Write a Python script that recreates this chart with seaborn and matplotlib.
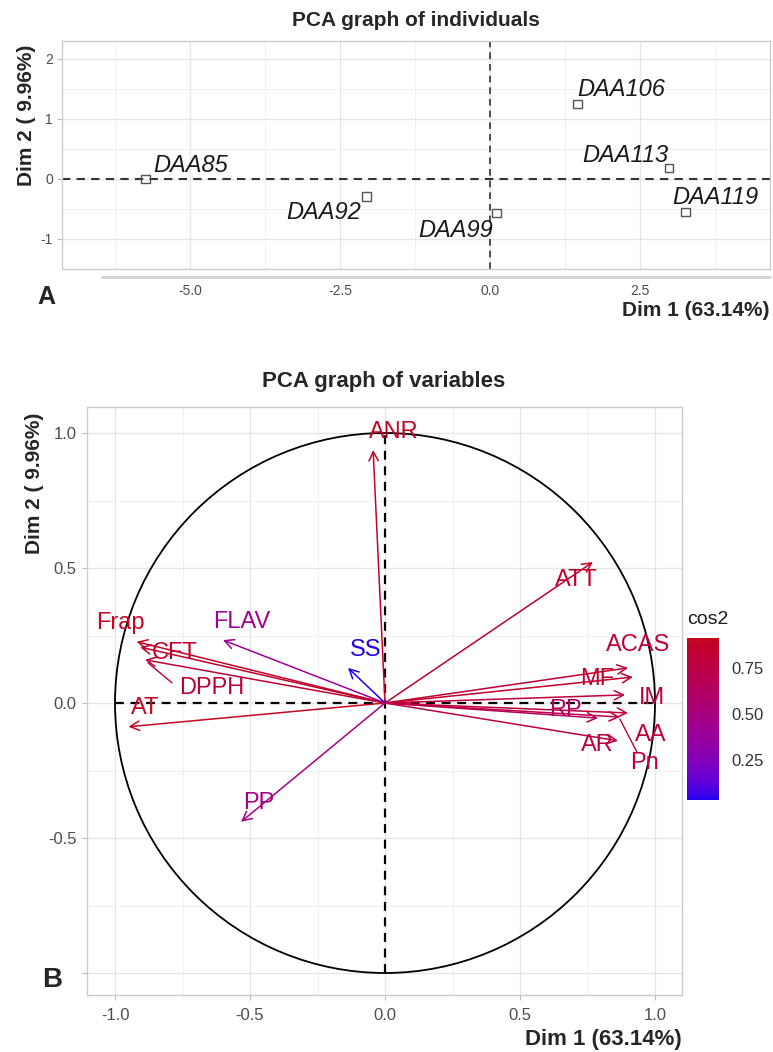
import numpy as np
import matplotlib
matplotlib.use("Agg")
import matplotlib.pyplot as plt
import matplotlib.colors as mcolors
from matplotlib.lines import Line2D
from matplotlib.patches import Circle
import seaborn as sns

# ---------------- data ----------------
ind_names = ["DAA85", "DAA92", "DAA99", "DAA106", "DAA113", "DAA119"]
ind_dim1 = [-5.74, -2.06, 0.11, 1.46, 2.98, 3.26]
ind_dim2 = [0.00, -0.29, -0.57, 1.25, 0.18, -0.55]

var_names = ["ANR", "ATT", "ACAS", "MF", "IM", "RP", "AA", "AR", "Pn",
             "Frap", "CFT", "DPPH", "AT", "FLAV", "SS", "PP"]
var_dim1 = [-0.044, 0.770, 0.900, 0.918, 0.889, 0.789, 0.900, 0.863, 0.870,
            -0.920, -0.907, -0.889, -0.950, -0.600, -0.137, -0.533]
var_dim2 = [0.937, 0.522, 0.130, 0.096, 0.030, -0.056, -0.037, -0.140, -0.052,
            0.227, 0.207, 0.160, -0.088, 0.233, 0.130, -0.440]
# quality of representation on the two plotted dimensions
var_cos2 = [x * x + y * y for x, y in zip(var_dim1, var_dim2)]

cbar_ticks = [0.25, 0.50, 0.75]
xlab = "Dim 1 (63.14%)"
ylab = "Dim 2 ( 9.96%)"

# ---------------- layout (pixels) ----------------
W, H = 773, 1052
DPI = 100

# label offsets in pixels (dx right, dy up)
ind_off = {"DAA85": (8, 14, "left"), "DAA92": (-5, -16, "right"),
           "DAA99": (-4, -17, "right"), "DAA106": (0, 14, "left"),
           "DAA113": (0, 13, "right"), "DAA119": (-13, 14, "left")}
var_off = {"ANR": (21, 18), "ATT": (-17, -18), "ACAS": (10, 23), "MF": (-36, -2),
           "IM": (27, -3), "RP": (-33, 8), "AA": (23, -22), "AR": (-21, -4),
           "Pn": (25, -46), "Frap": (-16, 19), "CFT": (35, -6), "DPPH": (67, -28),
           "AT": (17, 19), "FLAV": (19, 18), "SS": (18, 18), "PP": (18, 19)}
var_seg = {"DPPH": ((3, -3), (27, -23)), "Pn": ((0, -2), (17, -35))}


def fx(px):
    return px / W


def fy(py):
    return 1 - py / H


def rect(l, t, r, b):
    return [fx(l), fy(b), (r - l) / W, (b - t) / H]


# ---------------- colour gradient (Lab interpolation like ggplot) ----------------
_M = np.array([[0.4124, 0.3576, 0.1805], [0.2126, 0.7152, 0.0722], [0.0193, 0.1192, 0.9505]])
_WP = np.array([0.95047, 1.0, 1.08883])


def to_lab(c):
    rgb = np.array(mcolors.to_rgb(c))
    lin = np.where(rgb <= 0.04045, rgb / 12.92, ((rgb + 0.055) / 1.055) ** 2.4)
    xyz = _M @ lin / _WP
    f = np.where(xyz > 0.008856, np.cbrt(xyz), 7.787 * xyz + 16 / 116)
    return np.array([116 * f[1] - 16, 500 * (f[0] - f[1]), 200 * (f[1] - f[2])])


def from_lab(lab):
    L, a, b = lab
    fy_ = (L + 16) / 116
    fx_ = fy_ + a / 500
    fz_ = fy_ - b / 200
    f = np.array([fx_, fy_, fz_])
    xyz = np.where(f ** 3 > 0.008856, f ** 3, (f - 16 / 116) / 7.787) * _WP
    lin = np.linalg.solve(_M, xyz)
    lin = np.clip(lin, 0, 1)
    rgb = np.where(lin <= 0.0031308, 12.92 * lin, 1.055 * lin ** (1 / 2.4) - 0.055)
    return np.clip(rgb, 0, 1)


lo, hi = to_lab("#2000F0"), to_lab("#C4081F")
cmap = mcolors.ListedColormap([from_lab(lo + t * (hi - lo)) for t in np.linspace(0, 1, 256)])
norm = mcolors.Normalize(vmin=min(var_cos2), vmax=max(var_cos2))

# ---------------- style ----------------
sns.set_theme(style="white")
plt.rcParams["font.family"] = ["Liberation Sans", "DejaVu Sans"]
TICKC = "#4D4D4D"
GRID_MAJ = "#E6E6E6"
GRID_MIN = "#F0F0F0"
BORDER = "#CCCCCC"

fig = plt.figure(figsize=(W / DPI, H / DPI), dpi=DPI)
fig.patch.set_facecolor("white")

# ================= Panel A =================
axA = fig.add_axes(rect(62, 41, 770, 269))
axA.set_xlim((62 - 490) / 60, (770 - 490) / 60)
axA.set_ylim((179 - 269) / 60, (179 - 41) / 60)
axA.set_xticks([-5.0, -2.5, 0.0, 2.5])
axA.set_xticklabels(["-5.0", "-2.5", "0.0", "2.5"])
axA.set_yticks([-1, 0, 1, 2])
axA.set_yticklabels(["-1", "0", "1", "2"])
axA.set_xticks([-6.25, -3.75, -1.25, 1.25, 3.75], minor=True)
axA.set_yticks([-1.5, -0.5, 0.5, 1.5], minor=True)
axA.grid(True, which="major", color=GRID_MAJ, lw=1.0)
axA.grid(True, which="minor", color=GRID_MIN, lw=0.7)
axA.set_axisbelow(True)
axA.tick_params(axis="x", which="major", length=0, pad=11, labelsize=10, labelcolor=TICKC)
axA.tick_params(axis="y", which="major", length=3.6, width=0.8, color="#BBBBBB", pad=3,
                labelsize=10, labelcolor=TICKC, left=True)
axA.tick_params(which="minor", length=0)
for s in axA.spines.values():
    s.set_color(BORDER)
    s.set_linewidth(1.0)

axA.axhline(0, color="#333333", lw=1.5, ls=(0, (4, 3)), zorder=1)
axA.axvline(0, color="#333333", lw=1.2, ls=(0, (4, 3)), zorder=1)

sns.scatterplot(x=ind_dim1, y=ind_dim2, marker="s", s=36, facecolor="none",
                edgecolor="#555555", linewidth=1.0, ax=axA, zorder=3, legend=False)
for n, x, y in zip(ind_names, ind_dim1, ind_dim2):
    dx, dy, ha = ind_off[n]
    axA.annotate(n, (x, y), xytext=(dx, dy), textcoords="offset pixels",
                 ha=ha, va="center", fontsize=17, style="italic", color="#1A1A1A", zorder=4)
axA.set_xlabel("")
axA.set_ylabel("")

fig.add_artist(Line2D([fx(102), fx(770)], [fy(277), fy(277)], color="#D0D0D0", lw=2))

fig.text(fx(416), fy(20), "PCA graph of individuals", ha="center", va="center",
         fontsize=15, fontweight="bold")
fig.text(fx(27), fy(115), ylab, rotation=90, ha="center", va="center",
         fontsize=15, fontweight="bold")
fig.text(fx(770), fy(310), xlab, ha="right", va="center", fontsize=15, fontweight="bold")
fig.text(fx(46), fy(297), "A", ha="center", va="center", fontsize=18, fontweight="bold")

# ================= Panel B =================
axB = fig.add_axes(rect(87, 407, 682, 995))
axB.set_xlim((87 - 385) / 270, (682 - 385) / 270)
axB.set_ylim((703 - 995) / 270, (703 - 407) / 270)
axB.set_xticks([-1.0, -0.5, 0.0, 0.5, 1.0])
axB.set_xticklabels(["-1.0", "-0.5", "0.0", "0.5", "1.0"])
axB.set_yticks([-1.0, -0.5, 0.0, 0.5, 1.0])
axB.set_yticklabels(["", "-0.5", "0.0", "0.5", "1.0"])
axB.set_xticks([-0.75, -0.25, 0.25, 0.75], minor=True)
axB.set_yticks([-0.75, -0.25, 0.25, 0.75], minor=True)
axB.grid(True, which="major", color=GRID_MAJ, lw=1.0)
axB.grid(True, which="minor", color=GRID_MIN, lw=0.7)
axB.set_axisbelow(True)
axB.tick_params(axis="both", which="major", length=3.6, width=0.8, color="#BBBBBB",
                pad=4, labelsize=12, labelcolor=TICKC, left=True, bottom=True)
axB.tick_params(axis="x", which="major", pad=6)
axB.tick_params(which="minor", length=0)
for s in axB.spines.values():
    s.set_color(BORDER)
    s.set_linewidth(1.0)

axB.plot([-1, 1], [0, 0], color="black", lw=1.6, ls=(0, (4, 3)), zorder=1)
axB.plot([0, 0], [-1, 1], color="black", lw=1.6, ls=(0, (4, 3)), zorder=1)
axB.add_patch(Circle((0, 0), 1.0, fill=False, color="black", lw=1.3, zorder=2))

for n, x, y, c2 in zip(var_names, var_dim1, var_dim2, var_cos2):
    col = cmap(norm(c2))
    axB.annotate("", xy=(x, y), xytext=(0, 0),
                 arrowprops=dict(arrowstyle="->,head_length=0.55,head_width=0.28",
                                 color=col, lw=1.1, shrinkA=0, shrinkB=0), zorder=3)
    dx, dy = var_off[n]
    axB.annotate(n, (x, y), xytext=(dx, dy), textcoords="offset pixels",
                 ha="center", va="center", fontsize=17, color=col, zorder=4)
    if n in var_seg:
        (a1, b1), (a2, b2) = var_seg[n]
        axB.plot([x + a1 / 270, x + a2 / 270], [y + b1 / 270, y + b2 / 270],
                 color=col, lw=1.0, zorder=3)

fig.text(fx(384), fy(382), "PCA graph of variables", ha="center", va="center",
         fontsize=16, fontweight="bold")
fig.text(fx(34), fy(483), ylab, rotation=90, ha="center", va="center",
         fontsize=15, fontweight="bold")
fig.text(fx(682), fy(1040), xlab, ha="right", va="center", fontsize=16, fontweight="bold")
fig.text(fx(52), fy(980), "B", ha="center", va="center", fontsize=20, fontweight="bold")

# colour bar
cax = fig.add_axes(rect(687, 638, 719, 800))
sm = plt.cm.ScalarMappable(norm=norm, cmap=cmap)
cb = fig.colorbar(sm, cax=cax, ticks=cbar_ticks)
cb.outline.set_visible(False)
cb.ax.set_yticklabels([f"{t:.2f}" for t in cbar_ticks])
cb.ax.tick_params(axis="y", direction="in", length=5, width=0.8, color="white",
                  labelsize=12, labelcolor="#333333", right=True, left=True, pad=9)
fig.text(fx(687), fy(620), "cos2", ha="left", va="center", fontsize=14, color="#1A1A1A")

fig.savefig("out.png", dpi=DPI, facecolor="white")
